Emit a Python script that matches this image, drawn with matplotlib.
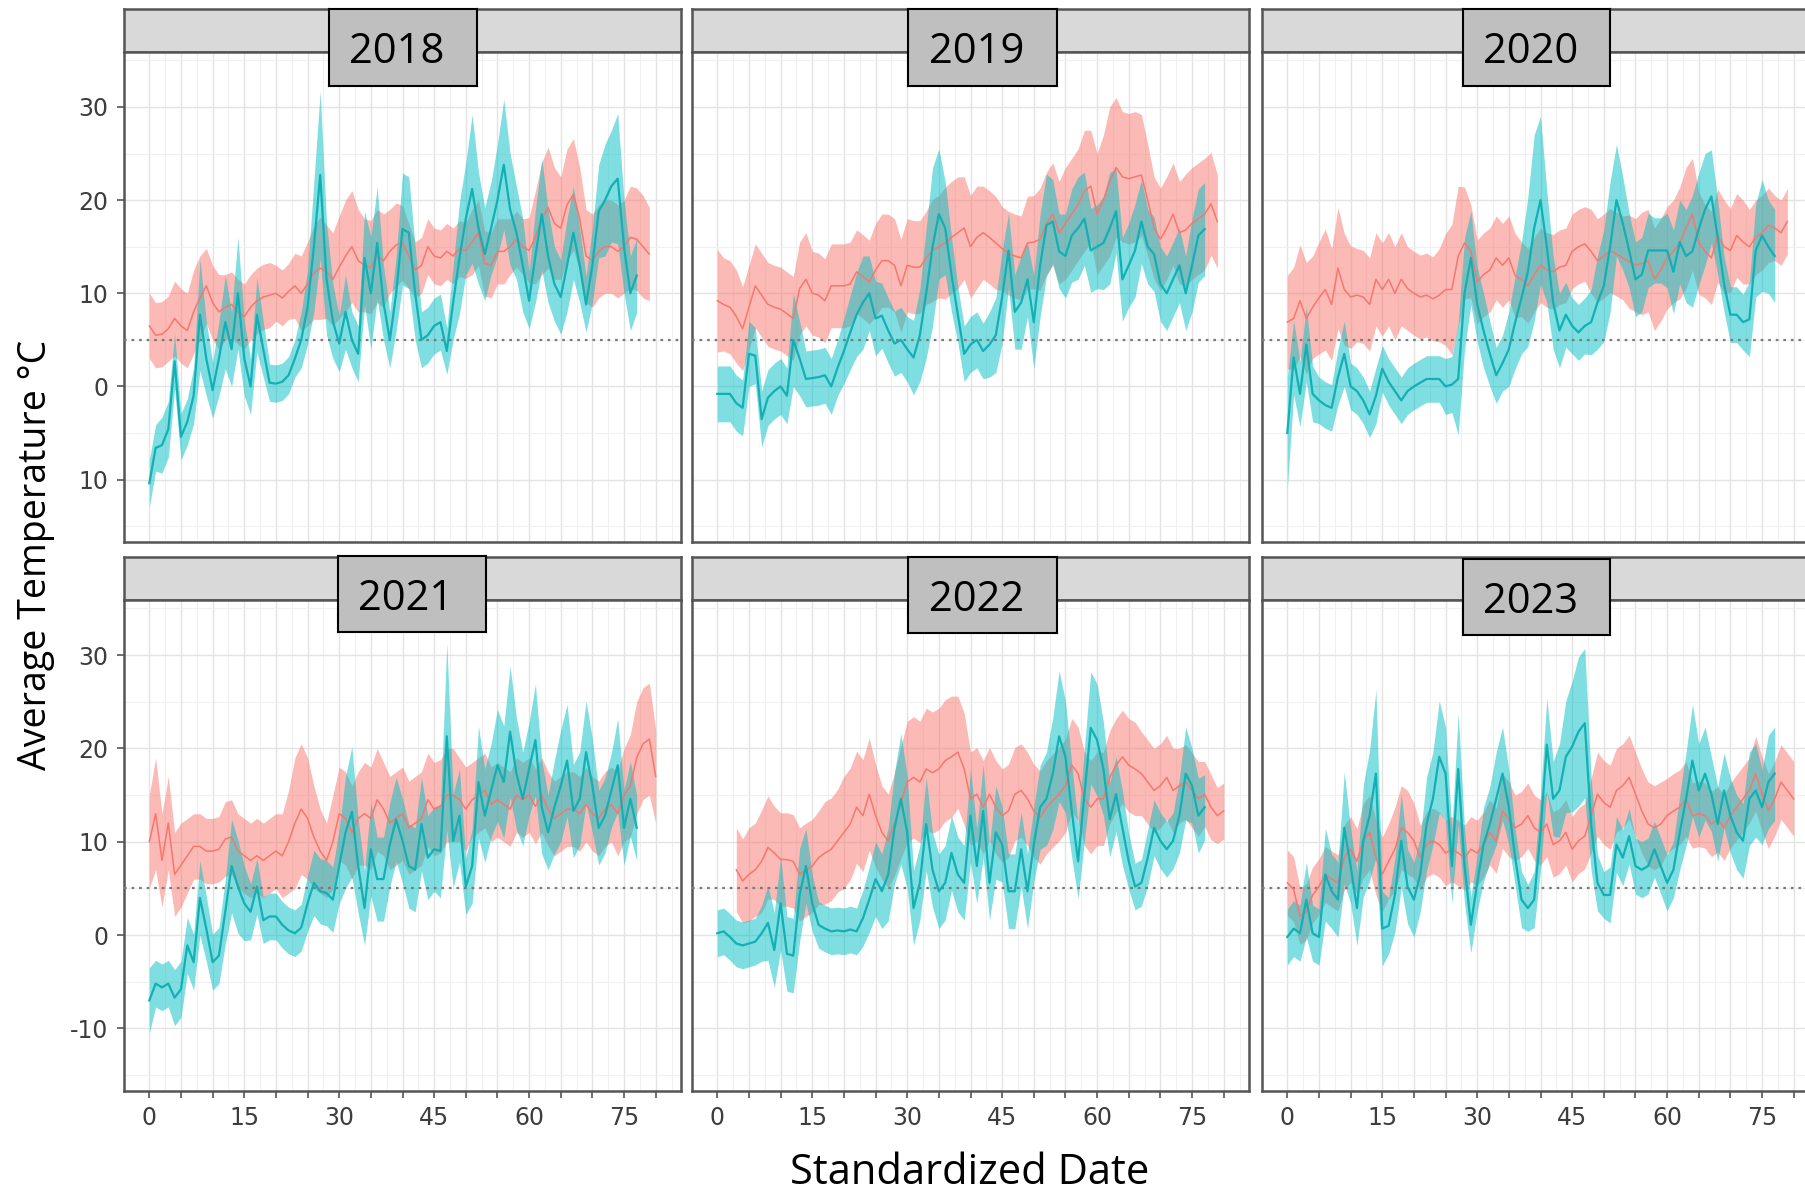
import numpy as np
import matplotlib.pyplot as plt

# ---- data ----
years = ['2018', '2019', '2020', '2021', '2022', '2023']
red_start = [0, 0, 0, 0, 3, 0]
cyan_start = [0, 0, 0, 0, 0, 0]

red_2018 = [6.5, 5.5, 5.6, 6.2, 7.3, 6.5, 6.0, 8.0, 9.5, 10.8,
            9.0, 8.0, 8.5, 8.8, 8.0, 7.5, 8.5, 9.2, 9.6, 9.8,
            10.0, 9.5, 10.2, 10.8, 10.0, 11.0, 12.2, 12.7, 12.3, 11.5,
            12.8, 14.0, 15.0, 13.5, 13.0, 12.8, 14.0, 13.5, 14.5, 15.2,
            15.4, 14.0, 12.5, 13.0, 15.0, 14.0, 13.8, 14.5, 14.0, 14.8,
            14.6, 15.5, 16.5, 13.2, 13.0, 14.5, 14.5, 15.0, 15.8, 15.0,
            14.6, 16.0, 18.0, 19.2, 17.5, 17.0, 19.5, 20.6, 18.0, 14.0,
            13.5, 14.5, 15.0, 15.0, 14.5, 15.0, 16.0, 15.8, 15.0, 14.2]
red_2018_hw = [3.5, 3.5, 3.5, 3.5, 4, 4, 4, 4.5, 4.5, 4,
               4, 4, 3.5, 3.5, 3.5, 3.5, 3.5, 3.5, 3.5, 3.5,
               3, 3, 3, 3.5, 4, 4.5, 5, 5.5, 5, 5,
               5.5, 6, 6, 5.5, 5, 5, 5, 5, 4.5, 4.5,
               4, 3.5, 3, 3, 3, 3, 3, 3, 3, 3,
               3, 3.5, 3.5, 3.5, 3.5, 3.5, 3.5, 3, 3, 3,
               3.5, 5, 6, 6.5, 6, 5.5, 6, 6, 5.5, 5,
               5, 5, 5, 5, 5, 5, 5.5, 5.5, 5.5, 5]
cyan_2018 = [-10.4, -6.6, -6.3, -4.6, 2.7, -5.4, -3.8, -1.0, 7.7, 3.0,
             -0.4, 3.0, 6.9, 4.0, 10.0, 3.0, 0.0, 7.7, 4.0, 0.4,
             0.3, 0.5, 1.2, 3.0, 5.0, 8.5, 15.0, 22.7, 11.5, 7.0,
             4.6, 8.0, 5.0, 3.5, 13.8, 10.0, 15.4, 9.0, 5.0, 10.0,
             16.9, 16.5, 10.0, 5.0, 5.5, 6.5, 6.9, 3.8, 9.0, 13.8,
             18.0, 21.2, 17.0, 14.2, 17.0, 20.0, 23.8, 19.0, 16.5, 13.0,
             9.2, 14.0, 18.5, 14.0, 11.0, 9.6, 13.0, 16.5, 13.0, 8.8,
             13.0, 18.8, 20.0, 21.5, 22.3, 15.0, 10.0, 11.9]
cyan_2018_hw = [2.5, 2.5, 3, 3, 3, 2.5, 2.5, 3, 6, 4,
                3, 4, 5, 4, 6, 4, 3, 4, 3, 2,
                2, 2, 2, 2, 3, 4, 7, 9, 6, 4,
                3, 4, 3, 3, 5, 6, 6, 4, 3, 4,
                6, 6, 5, 3, 3, 3, 3, 2.5, 4, 6,
                6, 8, 6, 5, 5, 6, 7, 6, 5, 5,
                3, 5, 6, 5, 4, 4, 5, 5, 4, 3,
                4, 5, 6, 6, 7, 5, 4, 4]

red_2019 = [9.2, 8.8, 8.5, 7.5, 6.2, 8.5, 10.8, 9.8, 8.8, 8.5,
            8.3, 7.8, 7.3, 10.5, 11.5, 10.0, 9.8, 9.2, 10.8, 10.8,
            10.8, 11.0, 12.3, 11.8, 11.2, 12.5, 13.5, 13.5, 13.0, 10.8,
            13.0, 12.8, 12.8, 13.8, 14.6, 15.0, 15.4, 16.0, 16.5, 17.0,
            15.0, 16.0, 16.5, 16.0, 15.4, 14.8, 14.3, 14.0, 13.8, 15.4,
            15.5, 15.8, 17.5, 18.5, 16.5, 17.5, 18.5, 19.5, 21.0, 21.5,
            18.5, 20.0, 22.0, 23.5, 22.5, 22.3, 22.5, 22.7, 20.0, 17.0,
            15.8, 17.0, 18.5, 16.5, 16.8, 17.5, 18.0, 18.5, 19.6, 17.7]
red_2019_hw = [5.5, 5, 5, 5, 4.5, 4.5, 4.5, 4.5, 4.5, 4.5,
               4.5, 4.5, 4.5, 5, 5, 4.5, 4.5, 4.5, 4.5, 4.5,
               4.5, 4.5, 4.5, 4.5, 4.5, 5, 5, 5, 5, 5,
               5, 5, 5, 5, 5.5, 5.5, 6, 6, 6, 5.5,
               5.5, 5.5, 5, 5, 5, 4.5, 4.5, 4.5, 4.5, 5,
               5, 5.5, 5.5, 5.5, 5.5, 6, 6, 6, 6.5, 6,
               6.5, 7, 8, 7.5, 7, 7, 7, 6.5, 6, 5.5,
               5.5, 5.5, 5.5, 5.5, 6, 6, 6, 6, 5.5, 5]
cyan_2019 = [-0.8, -0.8, -0.8, -1.8, -2.3, 3.5, 3.3, -3.5, -1.2, -0.5,
             0.0, -1.0, 5.0, 3.0, 0.8, 0.9, 1.0, 1.2, 0.0, 2.0,
             3.8, 5.8, 7.7, 9.0, 10.0, 7.3, 7.6, 6.0, 4.6, 5.0,
             4.0, 3.1, 5.5, 10.0, 15.0, 18.5, 17.0, 12.0, 7.7, 3.5,
             4.5, 5.0, 3.8, 4.5, 5.5, 9.6, 14.6, 8.0, 9.0, 11.5,
             6.9, 13.0, 17.3, 17.7, 14.5, 14.0, 16.2, 17.0, 18.0, 14.6,
             15.0, 15.4, 17.0, 18.8, 11.5, 13.0, 14.6, 17.7, 15.0, 14.2,
             11.0, 10.0, 11.5, 13.0, 10.0, 13.0, 16.2, 16.9]
cyan_2019_hw = [3, 3, 3, 3, 3, 3.5, 3, 3, 3, 3,
                3, 3, 5, 4, 3, 3, 3, 3, 3, 3,
                3.5, 4, 4.5, 5, 4, 4, 3.5, 3.5, 3.5, 3.5,
                3.5, 4, 5, 7, 8.5, 7, 5, 4, 3, 3,
                3, 3, 3, 3.5, 4, 5, 4, 4, 5, 4,
                5, 5.5, 5.5, 4.5, 4, 4.5, 5, 5.5, 5, 4.5,
                4.5, 5, 6, 4.5, 4.5, 4.5, 5, 4.5, 4, 4,
                4, 4, 4, 4, 4, 5, 5, 5]

red_2020 = [6.9, 7.3, 9.2, 7.3, 8.5, 9.5, 10.4, 8.8, 12.7, 10.4,
            9.6, 9.8, 9.6, 8.8, 11.5, 10.4, 11.5, 10.0, 11.5, 10.5,
            10.0, 9.6, 9.8, 9.4, 9.8, 10.4, 10.4, 14.0, 15.4, 14.5,
            11.2, 12.0, 12.5, 13.8, 13.0, 13.8, 11.9, 11.5, 10.8, 12.0,
            13.0, 12.5, 12.3, 12.8, 13.0, 14.5, 15.0, 15.3, 14.5, 13.5,
            14.0, 14.6, 14.2, 13.8, 13.4, 13.0, 13.2, 13.5, 11.5, 12.5,
            13.8, 14.5, 15.4, 17.0, 18.5, 15.4, 14.5, 13.8, 16.2, 15.0,
            14.6, 16.2, 15.5, 15.0, 16.0, 16.5, 17.3, 17.0, 16.5, 17.7]
red_2020_hw = [5, 5.5, 6, 6, 5.5, 6, 6.5, 6, 6.5, 6,
               5.5, 5, 5, 5, 5, 5, 5, 5, 5, 4.5,
               4.5, 4.5, 4.5, 4.5, 5, 6, 7, 7.5, 6, 5,
               4.5, 4.5, 4.5, 4.5, 4.5, 4.5, 4.5, 4, 4, 4,
               4, 4, 4, 4, 4, 4, 4, 4, 4.5, 4.5,
               4.5, 4.5, 4.5, 4.5, 5, 5, 5.5, 5.5, 5.5, 5.5,
               5.5, 5.5, 6, 6.5, 6, 5.5, 5, 5, 5, 5,
               4.5, 4.5, 4.5, 4, 4, 4, 4, 3.5, 3.5, 3.5]
cyan_2020 = [-5.0, 3.1, -0.8, 4.5, -0.8, -1.5, -2.0, -2.3, 1.0, 3.5,
             0.0, -0.5, -1.5, -3.0, -1.0, 1.9, 0.5, -0.5, -1.5, -0.5,
             0.0, 0.4, 0.8, 0.8, 0.8, 0.0, 0.2, 0.8, 10.0, 13.8,
             8.8, 6.0, 3.5, 1.2, 2.5, 4.0, 6.9, 9.5, 12.3, 17.0,
             20.0, 15.0, 9.0, 6.0, 7.7, 6.5, 5.8, 6.5, 6.9, 9.0,
             10.8, 15.0, 20.0, 17.5, 14.6, 11.5, 12.0, 14.6, 14.6, 14.6,
             14.6, 12.3, 15.5, 14.0, 14.5, 16.9, 19.0, 20.4, 16.0, 11.0,
             7.7, 7.7, 6.9, 7.2, 14.6, 16.2, 15.0, 14.0]
cyan_2020_hw = [6, 4, 3.5, 4, 3, 2.5, 2.5, 2.5, 3, 3.5,
                2.5, 2.5, 2.5, 2.5, 3, 2.5, 2.5, 2.5, 2.5, 2.5,
                2.5, 2.5, 2.5, 2.5, 2.5, 3, 3, 6, 6, 5,
                4, 4, 3.5, 3, 3, 4, 5, 6, 8, 10,
                9, 6, 5, 4, 3.5, 3, 3, 3, 3.5, 5,
                6, 7, 6, 5, 4, 4, 4, 4, 3.5, 3.5,
                4, 4.5, 4.5, 5, 6, 6, 6, 5, 4, 3,
                3, 3, 3, 4, 5, 6, 5, 5]

red_2021 = [10, 13, 8, 12, 6.5, 7.5, 8.5, 9.5, 9.5, 9.0,
            9.0, 9.2, 10.3, 10.5, 9.0, 8.5, 8.0, 8.5, 8.0, 8.5,
            9.0, 8.5, 10.0, 12.0, 13.5, 12.5, 10.5, 9.0, 8.0, 10.0,
            13.0, 12.5, 11.0, 12.5, 13.0, 12.5, 14.5, 13.5, 12.0, 12.5,
            13.0, 11.5, 12.0, 12.5, 14.5, 13.5, 13.8, 15.0, 15.0, 14.5,
            13.5, 14.5, 15.0, 15.5, 14.0, 14.5, 14.0, 13.5, 15.0, 14.5,
            15.0, 13.8, 15.0, 13.5, 12.5, 13.0, 13.5, 13.5, 13.0, 14.0,
            13.0, 12.5, 13.5, 14.0, 13.0, 15.0, 16.0, 19.0, 20.5, 21.0,
            17.0]
red_2021_hw = [5, 6, 5, 5, 4.5, 4.5, 4, 3.5, 3.5, 3.5,
               3.5, 3.5, 4, 4, 4, 4, 4, 4, 4, 4,
               4, 4.5, 5.5, 7, 7, 6.5, 5.5, 4.5, 4, 5,
               5, 5, 5, 5, 5.5, 5.5, 5.5, 5, 5, 5,
               5, 5, 5, 5, 5, 5, 5, 5, 5, 4.5,
               4.5, 4, 4, 4, 4, 4, 4, 4, 4, 4,
               4, 4, 4, 4, 4, 4, 4, 4, 4, 4,
               4, 4, 4, 4, 4.5, 5, 5.5, 6, 6, 6,
               5]
cyan_2021 = [-7.0, -5.2, -5.6, -5.2, -6.7, -5.8, -1.1, -2.9, 4.0, 0.7,
             -2.9, -2.2, 2.5, 7.4, 5.2, 3.4, 2.5, 5.2, 1.6, 2.0,
             2.0, 1.1, 0.5, 0.2, 0.8, 3.4, 5.6, 4.7, 4.5, 3.8,
             7.4, 11.0, 13.2, 7.4, 2.9, 9.2, 6.0, 6.0, 9.7, 12.4,
             10.1, 7.4, 7.0, 11.9, 8.3, 9.2, 9.0, 21.3, 10.1, 12.8,
             5.2, 7.4, 16.4, 12.8, 15.5, 18.2, 16.4, 21.8, 17.3, 14.6,
             17.8, 20.9, 13.7, 11.0, 13.7, 16.0, 18.7, 13.3, 14.6, 19.6,
             16.0, 11.5, 12.8, 15.5, 18.2, 11.5, 14.6, 11.5]
cyan_2021_hw = [3.5, 2.5, 2.5, 2.5, 3, 3, 3, 3, 4, 3.5,
                3, 3, 3.5, 5, 5, 4, 3, 3, 2.5, 2.5,
                2.5, 2.5, 2.5, 2.5, 2.5, 3, 3.5, 3.5, 3.5, 3.5,
                4, 6, 7, 5, 4, 5, 4.5, 4.5, 4.5, 4.5,
                4.5, 4.5, 4.5, 5, 4.5, 4.5, 5, 10, 5, 5,
                3, 4, 6, 5, 5, 6, 6, 7, 6, 5,
                5, 6, 5, 4, 5, 6, 6, 5, 5, 5.5,
                5, 4, 4, 4, 5, 4, 4, 3.5]

red_2022 = [7.0, 5.8, 6.5, 7.0, 7.9, 9.4, 8.8, 8.1, 8.1, 7.9,
            6.5, 7.0, 7.4, 8.3, 8.8, 9.2, 10.1, 11.0, 11.9, 13.7,
            12.8, 15.1, 12.8, 11.0, 10.1, 11.9, 14.2, 16.4, 16.9, 16.4,
            17.8, 17.4, 17.8, 18.7, 19.1, 19.6, 17.8, 14.6, 15.1, 13.7,
            15.1, 13.7, 12.8, 13.3, 15.1, 15.5, 14.6, 13.3, 12.6, 13.7,
            14.4, 15.1, 16.0, 18.2, 17.3, 14.6, 13.7, 14.6, 14.6, 16.9,
            18.2, 19.1, 18.2, 17.8, 17.3, 16.4, 15.5, 16.0, 16.9, 15.5,
            16.0, 16.4, 15.5, 14.6, 15.1, 13.7, 12.8, 13.3]
red_2022_hw = [4.5, 4.5, 5, 5, 5.5, 5.5, 5, 5, 5, 5,
               5, 5, 5, 5, 5.5, 5.5, 5.5, 6, 6, 6,
               6, 6, 5.5, 5, 5, 5.5, 6, 6.5, 6.5, 6.5,
               6.5, 6.5, 6.5, 6.5, 6.5, 6, 6, 5, 5, 5,
               5, 5, 5, 5, 5, 5, 5, 5, 5, 5,
               5, 5, 5, 5, 5, 5, 5, 5, 5, 5,
               5, 5, 5, 5, 4.5, 4.5, 4.5, 4.5, 4.5, 4.5,
               4, 4, 4, 4, 3.5, 3.5, 3, 3]
cyan_2022 = [0.2, 0.4, -0.2, -0.9, -1.1, -0.9, -0.7, 0.2, 1.3, -1.6,
             3.4, -2.0, -2.2, 4.3, 7.4, 3.4, 1.1, 0.7, 0.4, 0.5,
             0.4, 0.6, 0.4, 1.8, 3.8, 6.0, 4.7, 6.5, 11.5, 14.6,
             11.0, 2.9, 5.6, 11.9, 7.0, 4.7, 5.6, 8.8, 6.5, 5.6,
             12.8, 7.4, 13.3, 5.6, 11.0, 9.7, 4.7, 4.7, 9.2, 4.7,
             9.7, 13.7, 14.6, 17.3, 21.3, 19.1, 13.3, 7.9, 15.1, 22.2,
             20.9, 17.8, 12.4, 15.1, 11.5, 7.9, 5.2, 5.6, 8.3, 11.5,
             10.1, 9.2, 10.1, 12.8, 17.3, 16.0, 12.8, 13.7]
cyan_2022_hw = [2.5, 2.5, 2.5, 2.5, 2.5, 2.5, 2.5, 3, 4, 4,
                5, 4, 4, 5, 4, 3, 2.5, 2.5, 2.5, 2.5,
                2.5, 2.5, 2.5, 3, 3.5, 4, 4, 5, 6, 7,
                6, 4, 4, 5, 4, 4, 4, 4, 4, 4,
                5, 4, 5, 4, 5, 4, 4, 4, 4, 4,
                4, 4.5, 5, 6, 7, 6, 5, 4, 5, 6,
                6, 5, 4, 4, 4, 3, 2.5, 2.5, 3, 3,
                3, 3, 3, 4, 5, 4, 4, 3.5]

red_2023 = [5.6, 4.9, 2.0, 2.5, 4.3, 5.2, 6.5, 6.0, 5.6, 8.3,
            9.2, 7.9, 10.1, 11.0, 8.3, 6.5, 7.9, 9.2, 11.5, 11.0,
            10.1, 8.3, 9.7, 10.1, 9.7, 8.8, 9.2, 8.8, 8.3, 9.2,
            8.8, 9.7, 11.0, 10.1, 13.3, 12.4, 11.5, 11.9, 12.8, 11.5,
            11.0, 11.9, 9.7, 10.1, 11.0, 9.2, 10.1, 10.6, 12.8, 15.1,
            14.2, 13.7, 15.5, 16.0, 16.9, 15.1, 13.3, 11.9, 11.5, 11.9,
            12.8, 13.3, 13.7, 14.6, 12.8, 13.0, 12.8, 11.9, 12.4, 11.5,
            12.8, 13.7, 14.6, 15.5, 17.3, 15.1, 13.3, 14.6, 16.4, 15.5,
            14.6]
red_2023_hw = [3.5, 3.5, 3, 3, 3, 3, 3, 3, 3, 3.5,
               3.5, 3.5, 4, 4, 4, 4, 4, 4.5, 4.5, 4.5,
               4, 3.5, 3.5, 3.5, 3.5, 3.5, 3.5, 3.5, 3.5, 3.5,
               3.5, 3.5, 3.5, 3.5, 4, 4, 3.5, 3.5, 3.5, 3.5,
               3.5, 3.5, 3.5, 3.5, 3.5, 3.5, 3.5, 3.5, 4, 4.5,
               4.5, 4.5, 4.5, 4.5, 4.5, 4.5, 4.5, 4.5, 4.5, 4.5,
               4, 4, 4, 4, 3.5, 3.5, 3.5, 3.5, 3.5, 3.5,
               3.5, 3.5, 3.5, 3.5, 4, 4, 4, 4, 4, 4,
               4]
cyan_2023 = [-0.2, 0.7, 0.2, 3.8, 0.2, -0.2, 6.5, 4.7, 3.8, 11.5,
             7.4, 2.9, 10.1, 12.8, 17.3, 0.7, 1.0, 4.3, 10.1, 5.2,
             3.8, 6.5, 11.9, 14.6, 19.1, 17.3, 7.4, 17.8, 7.4, 1.1,
             5.6, 9.7, 11.9, 14.6, 17.3, 13.7, 8.3, 3.8, 2.9, 3.8,
             11.0, 20.4, 14.6, 15.5, 19.1, 20.2, 21.8, 22.7, 11.9, 5.6,
             4.3, 4.3, 9.7, 8.3, 10.6, 7.4, 7.0, 7.4, 9.2, 7.4,
             5.6, 7.0, 11.0, 14.6, 18.7, 15.5, 17.3, 15.1, 11.9, 15.5,
             12.8, 11.0, 10.1, 14.6, 15.5, 13.7, 16.4, 17.3]
cyan_2023_hw = [3, 3, 3, 4, 3, 3, 5, 4, 4, 6,
                4, 4, 6, 7, 9, 4, 3, 4, 5, 4,
                4, 4, 5, 5, 6, 5, 4, 6, 4, 3,
                3, 4, 4, 5, 5, 4, 3, 3, 2.5, 3,
                4, 5, 4, 5, 6, 7, 8, 8, 5, 3,
                2.5, 3, 3, 3, 3, 3, 3, 3, 3, 3,
                3, 3, 4, 5, 6, 5, 5, 4, 4, 4,
                4, 4, 4, 5, 5, 4, 5, 5]

red_means = [red_2018, red_2019, red_2020, red_2021, red_2022, red_2023]
red_hws = [red_2018_hw, red_2019_hw, red_2020_hw, red_2021_hw, red_2022_hw, red_2023_hw]
cyan_means = [cyan_2018, cyan_2019, cyan_2020, cyan_2021, cyan_2022, cyan_2023]
cyan_hws = [cyan_2018_hw, cyan_2019_hw, cyan_2020_hw, cyan_2021_hw, cyan_2022_hw, cyan_2023_hw]

threshold = 5
x_ticks = [0, 15, 30, 45, 60, 75]
y_ticks = [30, 20, 10, 0, -10]
y_labels_top = ['30', '20', '10', '0', '10']
y_labels_bottom = ['30', '20', '10', '0', '-10']

RED = '#F8766D'
CYAN = '#00BFC4'

W, H = 1805, 1192
fig = plt.figure(figsize=(W / 100, H / 100), dpi=100)


def add_px_axes(x0, y0, x1, y1):
    return fig.add_axes([x0 / W, 1 - y1 / H, (x1 - x0) / W, (y1 - y0) / H])


col_left = [124, 692, 1262]
col_w = 557
rows = [(9, 52, 542), (557, 600, 1091)]
label_boxes = [(329, 9, 477, 86), (908, 9, 1057, 86), (1463, 9, 1610, 86),
               (338, 556, 486, 632), (908, 557, 1057, 633), (1463, 559, 1610, 635)]

for i, yr in enumerate(years):
    r, c = divmod(i, 3)
    st, top, bot = rows[r]
    x0 = col_left[c]

    # strip
    sax = add_px_axes(x0, st, x0 + col_w, top)
    sax.set_facecolor('#d9d9d9')
    sax.set_xticks([])
    sax.set_yticks([])
    for s in sax.spines.values():
        s.set_color('#555555')
        s.set_linewidth(1.8)

    ax = add_px_axes(x0, top, x0 + col_w, bot)
    ax.set_xlim(-4, 84)
    ax.set_ylim(-16.7, 35.9)
    ax.set_xticks(np.arange(0, 81, 5))
    ax.set_xticks(np.arange(2.5, 84, 5), minor=True)
    ax.set_yticks(y_ticks)
    ax.set_yticks([-15, -5, 5, 15, 25, 35], minor=True)
    ax.grid(True, which='major', color='#e3e3e3', lw=1.0, zorder=0)
    ax.grid(True, which='minor', color='#f0f0f0', lw=0.8, zorder=0)
    ax.set_axisbelow(True)
    for s in ax.spines.values():
        s.set_color('#555555')
        s.set_linewidth(1.8)

    rm = np.array(red_means[i])
    rh = np.array(red_hws[i])
    rx = np.arange(len(rm)) + red_start[i]
    cm = np.array(cyan_means[i])
    ch = np.array(cyan_hws[i])
    cx = np.arange(len(cm)) + cyan_start[i]

    ax.fill_between(rx, rm - rh, rm + rh, color=RED, alpha=0.5, lw=0, zorder=2)
    ax.fill_between(cx, cm - ch, cm + ch, color=CYAN, alpha=0.5, lw=0, zorder=3)
    ax.axhline(threshold, color='#7a7a7a', ls=(0, (1.2, 2.2)), lw=1.6, zorder=4)
    ax.plot(rx, rm, color=RED, lw=1.1, zorder=5)
    ax.plot(cx, cm, color='#12b0b4', lw=1.6, zorder=6)

    ax.tick_params(which='minor', length=0)
    ax.tick_params(which='major', length=5, color='#555555', width=1.2,
                   labelsize=17, labelcolor='#3d3d3d', pad=6)
    if r == 1:
        ax.set_xticklabels([str(v) if v in x_ticks else '' for v in range(0, 81, 5)],
                           family='DejaVu Sans')
    else:
        ax.tick_params(axis='x', which='both', bottom=False, labelbottom=False)
    if c == 0:
        ax.set_yticklabels(y_labels_top if r == 0 else y_labels_bottom,
                           family='DejaVu Sans')
    else:
        ax.tick_params(axis='y', which='both', left=False, labelleft=False)

    # year label box
    bx0, by0, bx1, by1 = label_boxes[i]
    bax = add_px_axes(bx0, by0, bx1, by1)
    bax.set_facecolor('#bfbfbf')
    bax.set_xticks([])
    bax.set_yticks([])
    for s in bax.spines.values():
        s.set_color('black')
        s.set_linewidth(1.5)
    bax.text(0.46, 0.44, yr, transform=bax.transAxes, ha='center', va='center',
             fontsize=30, family='Open Sans', color='black')

fig.text(36 / W, 1 - 555 / H, 'Average Temperature °C', rotation=90,
         ha='center', va='center', fontsize=27, family='Open Sans')
fig.text(970 / W, 1 - 1184 / H, 'Standardized Date', ha='center', va='baseline',
         fontsize=30, family='Open Sans')

fig.savefig('out.png', dpi=100)
